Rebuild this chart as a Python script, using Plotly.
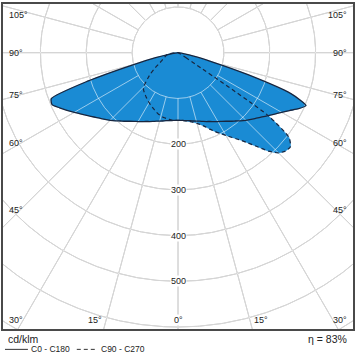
import numpy as np
import plotly.graph_objects as go

# ---------------- data (cd/klm) ----------------
GAMMA = [0, 2.5, 5, 7.5, 10, 12.5, 15, 17.5, 20, 22.5, 25, 27.5, 30, 32.5, 35, 37.5,
         40, 42.5, 45, 47.5, 50, 52.5, 55, 57.5, 60, 62.5, 65, 67.5, 70, 72.5, 75,
         77.5, 80, 82.5, 85, 87.5, 90]

C0 = [148, 148, 149, 150, 151, 153, 155, 157, 160, 163, 166, 170, 174, 178, 183, 189,
      195, 202, 209, 216, 223, 231, 240, 250, 261, 274, 290, 302, 262, 160, 75,
      35, 12, 4, 1, 0, 0]
C180 = [148, 148, 149, 150, 151, 153, 155, 157, 160, 163, 166, 170, 174, 178, 183, 189,
        195, 202, 209, 216, 223, 231, 240, 250, 261, 273, 285, 297, 294, 205, 100,
        50, 20, 6, 2, 0, 0]
C90 = [148, 148, 149, 151, 153, 156, 160, 165, 172, 181, 190, 199, 209, 220, 232, 248,
       268, 292, 310, 318, 320, 305, 240, 20, 0, 0, 0, 0, 0, 0, 0,
       0, 0, 0, 0, 0, 0]
C270 = [148, 148, 148, 147, 146, 145, 143, 141, 138, 135, 132, 129, 126, 123, 120, 117,
        114, 111, 106, 95, 85, 75, 65, 56, 47, 42, 38, 34, 32, 30, 28,
        26, 24, 18, 12, 5, 0]

CIRCLES = [100, 200, 300, 400, 500, 600, 700, 800]
RADIAL_ANGLES = [0, 15, 30, 45, 60, 75, 90, 105, 120, 135, 150, 165, 180,
                 195, 210, 225, 240, 255, 270, 285, 300, 315, 330, 345]
VALUE_LABELS = [200, 300, 400, 500]
SIDE_TICKS = [45, 60, 75, 90, 105]
BOTTOM_TICKS = [0, 15, 30]
EFFICIENCY = "η = 83%"
UNIT = "cd/klm"
LEGEND = ["C0 - C180", "C90 - C270"]

# ---------------- geometry (pixels) ----------------
W = H = 357
X0, X1, Y0, Y1 = 3, 354, 2, 329          # frame
CX, CY = 178.5, 51                       # pole
S = 0.46                                 # px per cd/klm

def px2x(px):
    return (px - CX) / S

def py2y(py):
    return (CY - py) / S

def to_xy(gam, val, side):
    g = np.radians(np.asarray(gam, float))
    r = np.asarray(val, float)
    return side * r * np.sin(g), -r * np.cos(g)

def closed_curve(right, left):
    xr, yr = to_xy(GAMMA, right, 1)
    xl, yl = to_xy(GAMMA, left, -1)
    x = np.concatenate([xr[::-1], xl[1:]])
    y = np.concatenate([yr[::-1], yl[1:]])
    keep = [0]
    for i in range(1, len(x)):
        if abs(x[i] - x[keep[-1]]) > 1e-6 or abs(y[i] - y[keep[-1]]) > 1e-6:
            keep.append(i)
    return x[keep], y[keep]

BLUE = "#1a8bd4"
OUTLINE = "#18263f"
GRID_BASE = "#a2a2a2"
GRID_TOP = "rgba(255,255,255,0.56)"
FONT = "Liberation Sans"
TXT = "#222222"

fig = go.Figure()

def add_grid(color):
    th = np.radians(np.linspace(0, 360, 721))
    for r in CIRCLES:
        fig.add_trace(go.Scatter(x=r * np.sin(th), y=-r * np.cos(th), mode="lines",
                                 line=dict(color=color, width=1), hoverinfo="skip",
                                 showlegend=False))
    for a in RADIAL_ANGLES:
        ar = np.radians(a)
        rr = np.array([CIRCLES[0], 1000])
        fig.add_trace(go.Scatter(x=rr * np.sin(ar), y=-rr * np.cos(ar), mode="lines",
                                 line=dict(color=color, width=1), hoverinfo="skip",
                                 showlegend=False))

add_grid(GRID_BASE)

sx, sy = closed_curve(C0, C180)
dx, dy = closed_curve(C90, C270)

for (x, y) in [(sx, sy), (dx, dy)]:
    fig.add_trace(go.Scatter(x=x, y=y, mode="lines", fill="toself", fillcolor=BLUE,
                             line=dict(color=BLUE, width=0.5, shape="spline", smoothing=0.6),
                             hoverinfo="skip", showlegend=False))

add_grid(GRID_TOP)

fig.add_trace(go.Scatter(x=dx, y=dy, mode="lines",
                         line=dict(color=OUTLINE, width=1.2, dash="4px,3px",
                                   shape="spline", smoothing=0.6),
                         hoverinfo="skip", showlegend=False))
fig.add_trace(go.Scatter(x=sx, y=sy, mode="lines",
                         line=dict(color=OUTLINE, width=1.3, shape="spline", smoothing=0.6),
                         hoverinfo="skip", showlegend=False))

ann = []
for v in VALUE_LABELS:
    ann.append(dict(x=0, y=-v, xref="x", yref="y", text=str(v), showarrow=False,
                    bgcolor="white", borderpad=0, font=dict(family=FONT, size=9, color=TXT)))

D = 158
for t in SIDE_TICKS:
    tr = np.radians(t)
    ypx = CY + D * np.cos(tr) / np.sin(tr)
    ypx = max(ypx, Y0 + 11)
    for side in (-1, 1):
        xpx = X0 + 4 if side < 0 else X1 - 4
        ann.append(dict(x=px2x(xpx), y=py2y(ypx), xref="x", yref="y", text=f"{t}°",
                        xanchor="left" if side < 0 else "right", yanchor="middle",
                        showarrow=False, font=dict(family=FONT, size=9, color=TXT)))

for t in BOTTOM_TICKS:
    tr = np.radians(t)
    ypx = Y1 - 9
    if t == 0:
        ann.append(dict(x=0, y=py2y(ypx), xref="x", yref="y", text="0°", showarrow=False,
                        bgcolor="white", borderpad=0, xanchor="center", yanchor="middle",
                        font=dict(family=FONT, size=9, color=TXT)))
        continue
    off = (Y1 - CY) * np.tan(tr)
    for side in (-1, 1):
        xint = CX + side * off
        if side < 0:
            if xint - 15 < X0 + 4:
                xpx, anc = X0 + 4, "left"
            else:
                xpx, anc = xint, "right"
        else:
            if xint + 15 > X1 - 4:
                xpx, anc = X1 - 4, "right"
            else:
                xpx, anc = xint, "left"
        ann.append(dict(x=px2x(xpx), y=py2y(ypx), xref="x", yref="y", text=f"{t}°",
                        xanchor=anc, yanchor="middle", showarrow=False,
                        font=dict(family=FONT, size=9, color=TXT)))

def pxp(px):
    return (px - X0) / (X1 - X0)

def pyp(py):
    return (Y1 - py) / (Y1 - Y0)

ann.append(dict(x=pxp(6), y=pyp(339), xref="paper", yref="paper", text=UNIT,
                xanchor="left", yanchor="middle", showarrow=False,
                font=dict(family=FONT, size=10.5, color=TXT)))
ann.append(dict(x=pxp(350), y=pyp(339), xref="paper", yref="paper", text=EFFICIENCY,
                xanchor="right", yanchor="middle", showarrow=False,
                font=dict(family=FONT, size=10.5, color=TXT)))
ann.append(dict(x=pxp(29), y=pyp(349.5), xref="paper", yref="paper", text=LEGEND[0],
                xanchor="left", yanchor="middle", showarrow=False,
                font=dict(family=FONT, size=8.5, color=TXT)))
ann.append(dict(x=pxp(99), y=pyp(349.5), xref="paper", yref="paper", text=LEGEND[1],
                xanchor="left", yanchor="middle", showarrow=False,
                font=dict(family=FONT, size=8.5, color=TXT)))

shapes = [
    dict(type="line", xref="paper", yref="paper", x0=pxp(5), x1=pxp(28),
         y0=pyp(349.5), y1=pyp(349.5), line=dict(color="#333333", width=1)),
    dict(type="line", xref="paper", yref="paper", x0=pxp(77), x1=pxp(97),
         y0=pyp(349.5), y1=pyp(349.5), line=dict(color="#333333", width=1, dash="4px,3px")),
]

fig.update_layout(
    width=W, height=H,
    margin=dict(l=X0, r=W - X1, t=Y0, b=H - Y1),
    paper_bgcolor="white", plot_bgcolor="white",
    xaxis=dict(range=[px2x(X0), px2x(X1)], showgrid=False, zeroline=False,
               showticklabels=False, ticks="", showline=True, mirror=True,
               linecolor="#4a4a4a", linewidth=1.5, fixedrange=True),
    yaxis=dict(range=[py2y(Y1), py2y(Y0)], showgrid=False, zeroline=False,
               showticklabels=False, ticks="", showline=True, mirror=True,
               linecolor="#4a4a4a", linewidth=1.5, fixedrange=True),
    annotations=ann, shapes=shapes, showlegend=False,
)

fig.write_html(
    "out.html",
    config={"displayModeBar": False},
    post_script="document.body.style.margin='0px';document.body.style.overflow='hidden';",
)
